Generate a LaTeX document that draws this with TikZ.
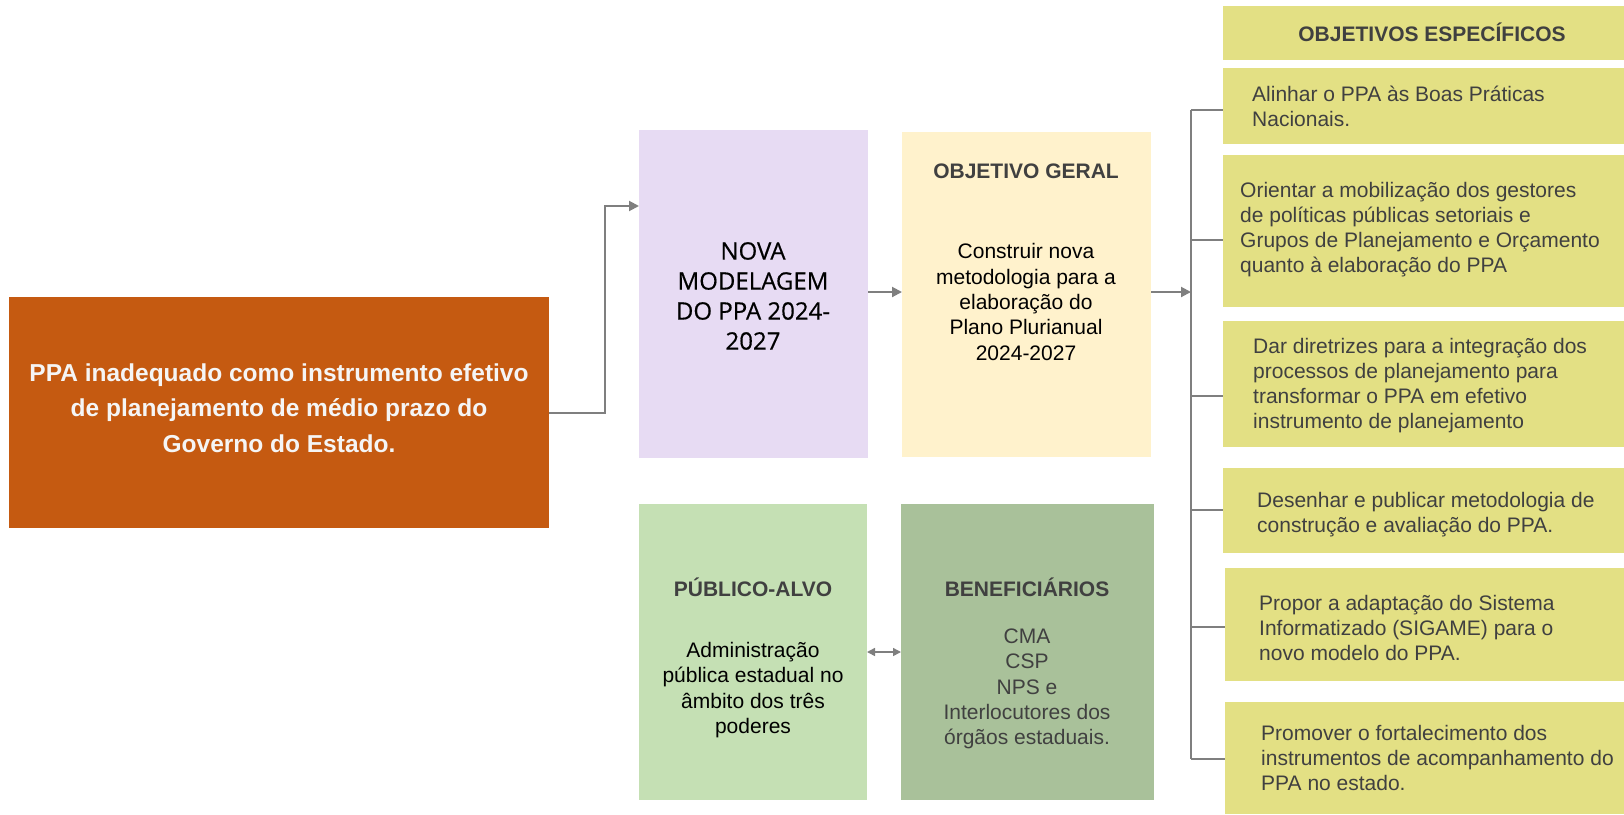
\documentclass[tikz,border=0pt]{standalone}
\usepackage{fontspec}
\setmainfont{Liberation Sans}
\newfontfamily\modelfont[FakeBold=0.5]{Open Sans}
\usepackage{tikz}
\usetikzlibrary{arrows.meta, calc}
\definecolor{ppaorange}{HTML}{C55A11}
\definecolor{ppalilas}{HTML}{E7DBF3}
\definecolor{ppacreme}{HTML}{FFF2CC}
\definecolor{ppaverde}{HTML}{C5E0B4}
\definecolor{ppamusgo}{HTML}{A9C19A}
\definecolor{ppaoliva}{HTML}{E3E084}
\definecolor{textgray}{HTML}{404040}
\definecolor{linegray}{HTML}{7F7F7F}

\begin{document}
\begin{tikzpicture}[x=1pt, y=-1pt,
    box/.style={anchor=north west, inner sep=0pt, outer sep=0pt, draw=none},
    seta/.style={draw=linegray, line width=2pt, -{Triangle[length=10pt,width=10pt]}},
    ramo/.style={draw=linegray, line width=2pt},
    titulo/.style={font=\fontsize{21}{25}\selectfont\bfseries, text=textgray, inner sep=0pt},
    corpo/.style={font=\fontsize{21}{25.3}\selectfont, align=center, inner sep=0pt},
    objtexto/.style={font=\fontsize{21}{25}\selectfont, text=textgray, align=left, anchor=west, inner sep=0pt}]
	\useasboundingbox (0,0) rectangle (1624,814);

	\node[box, fill=ppaorange, minimum width=540pt, minimum height=231pt] (problema) at (9,297) {};
	\node[font=\fontsize{24.5}{35.5}\selectfont\bfseries, text=white!96!black, align=center] (problematxt) at (279,408)
		{PPA inadequado como instrumento efetivo\\de planejamento de médio prazo do\\Governo do Estado.};

	\node[box, fill=ppalilas, minimum width=229pt, minimum height=328pt] (modelagem) at (639,130) {};
	\node[font=\modelfont\fontsize{24}{30}\selectfont, align=center] (modelagemtxt) at (753,296)
		{NOVA\\MODELAGEM\\DO PPA 2024-\\2027};

	\node[box, fill=ppacreme, minimum width=249pt, minimum height=325pt] (geral) at (902,132) {};
	\node[titulo] (geraltit) at (1026,171) {OBJETIVO GERAL};
	\node[corpo] (geraltxt) at (1026,302)
		{Construir nova\\metodologia para a\\elaboração do\\Plano Plurianual\\2024-2027};

	\node[box, fill=ppaverde, minimum width=228pt, minimum height=296pt] (publico) at (639,504) {};
	\node[titulo] (publicotit) at (753,587) {PÚBLICO-ALVO};
	\node[corpo] (publicotxt) at (753,690)
		{Administração\\pública estadual no\\âmbito dos três\\poderes};

	\node[box, fill=ppamusgo, minimum width=253pt, minimum height=296pt] (benef) at (901,504) {};
	\node[titulo] (beneftit) at (1027,587) {BENEFICIÁRIOS};
	\node[corpo, text=textgray] (beneftxt) at (1027,689)
		{CMA\\CSP\\NPS e\\Interlocutores dos\\órgãos estaduais.};

	% objetivos especificos
	\node[box, fill=ppaoliva, minimum width=401pt, minimum height=54pt] (espec) at (1223,6) {};
	\node[titulo] (especTit) at (1432,32) {OBJETIVOS ESPECÍFICOS};
	\node[box, fill=ppaoliva, minimum width=401pt, minimum height=76pt] (o1) at (1223,68) {};
	\node[box, fill=ppaoliva, minimum width=401pt, minimum height=152pt] (o2) at (1223,155) {};
	\node[box, fill=ppaoliva, minimum width=401pt, minimum height=126pt] (o3) at (1223,321) {};
	\node[box, fill=ppaoliva, minimum width=401pt, minimum height=85pt] (o4) at (1223,468) {};
	\node[box, fill=ppaoliva, minimum width=399pt, minimum height=113pt] (o5) at (1225,568) {};
	\node[box, fill=ppaoliva, minimum width=399pt, minimum height=112pt] (o6) at (1225,702) {};
	\node[objtexto] (o1txt) at (1252,106) {Alinhar o PPA às Boas Práticas\\Nacionais.};
	\node[objtexto] (o2txt) at (1240,230) {Orientar a mobilização dos gestores\\de políticas públicas setoriais e\\Grupos de Planejamento e Orçamento\\quanto à elaboração do PPA};
	\node[objtexto] (o3txt) at (1253,386) {Dar diretrizes para a integração dos\\processos de planejamento para\\transformar o PPA em efetivo\\instrumento de planejamento};
	\node[objtexto] (o4txt) at (1257,515) {Desenhar e publicar metodologia de\\construção e avaliação do PPA.};
	\node[objtexto] (o5txt) at (1259,628) {Propor a adaptação do Sistema\\Informatizado (SIGAME) para o\\novo modelo do PPA.};
	\node[objtexto] (o6txt) at (1261,758) {Promover o fortalecimento dos\\instrumentos de acompanhamento do\\PPA no estado.};

	% conectores
	\coordinate (chave) at (1191,292);
	\draw[seta] (problema.east) -- ++(56,0) |- (modelagem.west |- 0,206);
	\draw[seta] (modelagem.east |- 0,292) -- (geral.west |- 0,292);
	\draw[seta] (geral.east |- chave) -- (chave);
	\draw[ramo] (1191,110) -- (1191,759);
	\foreach \n/\y in {1/110, 2/240, 3/396, 4/510, 5/627, 6/759}
		\draw[ramo] (1191,\y) -- (o\n.west |- 0,\y);
	\draw[draw=linegray, line width=1.5pt, {Triangle[length=8pt,width=8pt]}-{Triangle[length=8pt,width=8pt]}]
		(publico.east) -- (benef.west);
\end{tikzpicture}
\end{document}
